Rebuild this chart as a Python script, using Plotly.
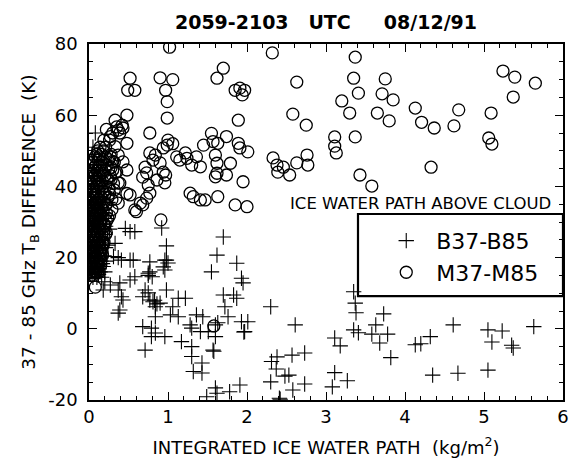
import plotly.graph_objects as go

# ---- B37-B85 brightness-temperature differences (crosses) ----
b_x = [
    # dense column near zero ice water path
    0.05, 0.10, 0.16, 0.03, 0.08, 0.14, 0.20, 0.06, 0.11, 0.18,
    0.02, 0.09, 0.15, 0.22, 0.05, 0.12, 0.19, 0.03, 0.08, 0.14,
    0.06, 0.11, 0.17, 0.24, 0.02, 0.09, 0.15, 0.05, 0.12, 0.20,
    0.03, 0.08, 0.14, 0.26, 0.06, 0.11, 0.18, 0.02, 0.09, 0.15,
    0.22, 0.05, 0.12, 0.19, 0.03, 0.08, 0.14, 0.06, 0.11, 0.17,
    0.24, 0.02, 0.09, 0.15, 0.05, 0.12, 0.20, 0.03, 0.08, 0.14,
    0.06, 0.11, 0.18, 0.04, 0.09, 0.15, 0.07, 0.12, 0.05, 0.10,
    0.07, 0.05, 0.08,
    0.01, 0.07, 0.12, 0.04, 0.13, 0.01, 0.07, 0.17, 0.04, 0.10,
    0.01, 0.07, 0.13, 0.04, 0.10, 0.21, 0.01, 0.07, 0.13, 0.04,
    0.10, 0.17, 0.01, 0.07, 0.13, 0.04, 0.10, 0.21, 0.01, 0.07,
    0.13, 0.04, 0.10, 0.17, 0.01, 0.07, 0.13, 0.04, 0.10, 0.02,
    0.08, 0.03, 0.06, 0.10, 0.04,
    # scattered points
    0.46, 0.52, 0.58, 0.92, 0.33, 0.98, 0.96, 1.00, 0.94, 0.77,
    0.75, 0.80, 0.56, 0.37, 0.58, 1.70, 1.62, 1.87, 1.55, 1.93,
    1.95, 0.31, 0.41, 0.52, 0.98, 0.96, 0.77, 0.75, 0.20, 0.27,
    0.39, 0.52, 0.18, 0.37, 0.41, 0.43, 0.39, 0.37, 0.71, 0.75,
    0.68, 0.81, 0.90, 0.84, 0.77, 0.86, 0.83, 0.98, 1.13, 1.22,
    1.06, 1.03, 1.13, 0.84, 0.68, 0.79, 0.84, 0.79, 0.96, 0.71,
    1.28, 1.36, 1.44, 1.41, 1.30, 1.17, 1.30, 1.30, 1.43, 1.32,
    1.43, 1.60, 1.63, 1.60, 1.57, 1.58, 1.51, 1.70, 1.72, 1.76,
    1.83, 1.87, 1.93, 2.01, 1.97, 1.96, 1.60, 1.49, 1.62, 1.78,
    1.91, 2.30, 2.61, 3.11, 3.18, 3.35, 3.41, 3.58, 3.35, 3.37,
    3.38, 3.63, 3.73, 3.78, 3.68, 3.82, 4.13, 4.20, 4.32, 4.61,
    4.35, 4.67, 5.05, 5.23, 5.10, 5.05, 5.37, 5.35, 5.63, 3.11,
    3.08, 3.27, 2.31, 2.37, 2.30, 2.38, 2.57, 2.73, 2.48, 2.53,
    2.58, 2.73, 2.41, 2.42,
]
b_y = [
    14.5, 14.5, 14.5, 16.0, 16.0, 16.0, 16.0, 17.5, 17.5, 17.5,
    19.0, 19.0, 19.0, 19.0, 20.5, 20.5, 20.5, 22.0, 22.0, 22.0,
    23.5, 23.5, 23.5, 23.5, 25.0, 25.0, 25.0, 26.5, 26.5, 26.5,
    28.0, 28.0, 28.0, 28.0, 29.5, 29.5, 29.5, 31.0, 31.0, 31.0,
    31.0, 32.5, 32.5, 32.5, 34.0, 34.0, 34.0, 35.5, 35.5, 35.5,
    35.5, 37.0, 37.0, 37.0, 38.5, 38.5, 38.5, 40.0, 40.0, 40.0,
    41.5, 41.5, 41.5, 43.0, 43.0, 43.0, 44.5, 44.5, 46.0, 46.0,
    47.5, 51.0, 55.0,
    15.3, 15.3, 15.3, 16.8, 16.8, 18.3, 18.3, 18.3, 19.8, 19.8,
    21.3, 21.3, 21.3, 22.8, 22.8, 22.8, 24.3, 24.3, 24.3, 25.8,
    25.8, 25.8, 27.3, 27.3, 27.3, 28.8, 28.8, 28.8, 30.3, 30.3,
    30.3, 31.8, 31.8, 31.8, 33.3, 33.3, 33.3, 34.8, 34.8, 36.3,
    36.3, 39.3, 42.3, 45.3, 49.0,
    28.2, 27.3, 27.3, 28.3, 24.0, 23.3, 19.3, 18.5, 17.4, 18.8,
    15.6, 14.6, 19.3, 20.0, 14.6, 25.8, 20.7, 18.4, 16.0, 14.2,
    12.9, 20.3, 19.3, 19.3, 19.3, 16.5, 16.0, 15.0, 13.2, 12.3,
    12.9, 13.7, 10.9, 10.9, 9.0, 8.1, 5.3, 4.4, 10.9, 10.1,
    9.0, 7.6, 7.2, 6.2, 8.1, 7.0, 8.0, 10.9, 8.6, 8.6,
    6.2, 3.9, 3.4, 3.4, 0.6, 0.2, -1.2, -2.2, -2.2, -6.0,
    1.1, 3.9, 3.4, -0.8, 0.2, -3.6, -5.0, -7.8, -9.6, -12.0,
    -12.4, 1.1, 1.7, -2.2, -6.0, -6.3, -0.8, 9.5, 6.2, 3.4,
    9.5, 8.6, 2.0, 2.0, -0.8, -0.9, -16.6, -19.1, -18.1, -17.7,
    -15.8, 6.2, 1.1, -2.6, -4.8, -0.3, -1.1, -1.5, 10.4, 7.2,
    4.5, 1.1, 4.2, -1.5, -4.0, -8.1, -4.5, -4.2, -2.2, 1.1,
    -13.0, -12.5, -0.3, -0.6, -3.7, -11.6, -5.4, -4.6, 0.6, -12.3,
    -16.3, -14.6, -9.2, -11.3, -14.9, -7.9, -7.4, -6.8, -13.3, -13.0,
    -17.2, -15.5, -19.5, -19.8,
]

# ---- M37-M85 brightness-temperature differences (circles) ----
m_x = [
    # dense column near zero ice water path
    0.03, 0.06, 0.04, 0.09, 0.13, 0.02, 0.07, 0.11, 0.05, 0.10,
    0.15, 0.03, 0.08, 0.12, 0.17, 0.06, 0.10, 0.14, 0.02, 0.07,
    0.12, 0.18, 0.04, 0.09, 0.13, 0.06, 0.11, 0.16, 0.21, 0.03,
    0.08, 0.13, 0.05, 0.10, 0.15, 0.19, 0.07, 0.12, 0.17, 0.04,
    0.09, 0.14, 0.22, 0.06, 0.11, 0.16, 0.03, 0.08, 0.13, 0.19,
    0.05, 0.10, 0.15, 0.24, 0.07, 0.12, 0.18, 0.04, 0.09, 0.14,
    0.21, 0.06, 0.11, 0.17, 0.08, 0.13, 0.20, 0.27, 0.05, 0.10,
    0.16, 0.09, 0.14, 0.22, 0.12, 0.18, 0.25, 0.10, 0.16, 0.28,
    0.14, 0.21, 0.19, 0.26, 0.22,
    0.25, 0.30, 0.35, 0.37, 0.32, 0.28, 0.34, 0.26, 0.22, 0.29,
    0.24, 0.20, 0.22, 0.18, 0.17, 0.15,
    0.01, 0.08, 0.11, 0.05, 0.09, 0.03, 0.12, 0.07, 0.13, 0.01,
    0.05, 0.15, 0.04, 0.09, 0.16, 0.06, 0.11, 0.19, 0.02, 0.14,
    0.04, 0.09, 0.18, 0.01, 0.12, 0.20, 0.03, 0.08, 0.22, 0.05,
    0.14, 0.26, 0.02, 0.11, 0.18, 0.04, 0.09, 0.21, 0.01, 0.13,
    0.29, 0.03, 0.08, 0.20, 0.06, 0.16, 0.25, 0.02, 0.13, 0.31,
    0.04, 0.10, 0.23, 0.02, 0.18, 0.33, 0.07, 0.13, 0.28, 0.05,
    0.17, 0.32, 0.08, 0.13, 0.21, 0.11, 0.18,
    # scattered points
    1.02, 0.52, 0.49, 0.58, 0.90, 1.06, 0.97, 0.99, 0.99, 1.62,
    1.70, 1.85, 1.91, 1.97, 1.94, 1.89, 0.48, 0.33, 0.35, 0.42,
    0.43, 0.30, 0.37, 0.27, 0.39, 0.48, 0.33, 0.27, 0.37, 0.43,
    0.30, 0.48, 0.39, 0.48, 0.37, 0.60, 0.65, 0.77, 1.00, 0.99,
    0.94, 1.06, 0.77, 0.84, 0.81, 0.71, 0.73, 0.68, 0.75, 0.77,
    0.73, 0.68, 0.90, 0.94, 0.97, 0.86, 0.96, 0.91, 0.58, 0.52,
    1.11, 1.15, 1.22, 1.24, 1.30, 1.41, 1.36, 1.45, 1.55, 1.57,
    1.63, 1.60, 1.62, 1.74, 1.79, 1.89, 1.91, 2.01, 1.95, 1.62,
    1.60, 1.74, 1.28, 1.32, 1.41, 1.47, 1.63, 1.85, 2.00, 0.08,
    1.58,
    2.32, 2.63, 2.58, 2.75, 3.11, 3.11, 3.13, 2.33, 2.38, 2.46,
    2.54, 2.39, 2.63, 2.76, 2.77, 3.37, 3.35, 3.41, 3.20, 3.30,
    3.37, 3.43, 3.58, 3.75, 3.71, 3.85, 3.65, 3.80, 4.13, 4.21,
    4.37, 4.33, 4.68, 4.62, 5.09, 5.06, 5.10, 5.24, 5.39, 5.37,
    5.65,
]
m_y = [
    15.0, 15.0, 16.0, 16.0, 16.0, 17.5, 17.5, 17.5, 19.0, 19.0,
    19.0, 20.5, 20.5, 20.5, 20.5, 22.0, 22.0, 22.0, 23.5, 23.5,
    23.5, 23.5, 25.0, 25.0, 25.0, 26.5, 26.5, 26.5, 26.5, 28.0,
    28.0, 28.0, 29.5, 29.5, 29.5, 29.5, 31.0, 31.0, 31.0, 32.5,
    32.5, 32.5, 32.5, 34.0, 34.0, 34.0, 35.5, 35.5, 35.5, 35.5,
    37.0, 37.0, 37.0, 37.0, 38.5, 38.5, 38.5, 40.0, 40.0, 40.0,
    40.0, 41.5, 41.5, 41.5, 43.0, 43.0, 43.0, 43.0, 44.5, 44.5,
    44.5, 46.0, 46.0, 46.0, 47.5, 47.5, 47.5, 49.0, 49.0, 49.0,
    51.0, 51.0, 53.0, 53.0, 56.0,
    45.0, 47.0, 44.0, 41.0, 39.0, 42.0, 36.5, 38.0, 35.0, 33.5,
    31.0, 29.0, 27.0, 24.0, 21.0, 18.0,
    15.8, 15.8, 15.8, 17.0, 17.0, 18.3, 18.3, 19.8, 19.8, 21.3,
    21.3, 21.3, 22.8, 22.8, 22.8, 24.3, 24.3, 24.3, 25.8, 25.8,
    27.3, 27.3, 27.3, 28.8, 28.8, 28.8, 30.3, 30.3, 30.3, 31.8,
    31.8, 31.8, 33.3, 33.3, 33.3, 34.8, 34.8, 34.8, 36.3, 36.3,
    36.3, 37.8, 37.8, 37.8, 39.3, 39.3, 39.3, 40.8, 40.8, 40.8,
    42.3, 42.3, 42.3, 43.8, 43.8, 43.8, 45.3, 45.3, 45.3, 46.8,
    46.8, 46.8, 48.3, 48.3, 48.3, 50.0, 50.0,
    79.1, 70.4, 67.0, 67.0, 70.5, 70.0, 67.0, 63.8, 59.2, 70.4,
    73.2, 67.0, 67.6, 67.0, 65.7, 58.6, 60.0, 58.6, 56.7, 57.2,
    56.4, 55.0, 55.8, 54.0, 55.0, 52.1, 51.2, 48.4, 48.8, 46.9,
    44.6, 44.6, 40.9, 38.0, 35.3, 32.9, 35.3, 55.0, 53.0, 51.6,
    50.8, 52.0, 49.4, 48.8, 47.4, 45.4, 43.8, 42.6, 40.4, 38.1,
    36.7, 34.8, 46.6, 44.0, 43.2, 41.8, 41.0, 30.6, 33.4, 37.6,
    48.3, 47.4, 49.4, 47.9, 46.0, 45.5, 48.3, 51.6, 54.9, 52.6,
    52.1, 48.8, 46.5, 54.0, 46.5, 52.1, 50.8, 49.7, 41.3, 43.7,
    42.7, 43.2, 38.1, 37.1, 36.2, 36.2, 37.1, 34.8, 34.3, 11.7,
    0.8,
    77.5, 69.3, 60.3, 57.2, 53.9, 51.3, 49.4, 48.0, 46.0, 45.4,
    43.2, 44.0, 46.6, 48.8, 46.0, 76.3, 70.4, 66.2, 64.0, 60.6,
    53.9, 43.2, 40.1, 70.2, 66.0, 64.3, 60.6, 58.4, 62.0, 58.0,
    56.4, 45.4, 61.5, 57.0, 60.6, 53.6, 51.9, 72.4, 70.7, 65.1,
    69.0,
]

x_ticks = [0, 1, 2, 3, 4, 5, 6]
y_ticks = [-20, 0, 20, 40, 60, 80]
y_ticktext = ["-20", "0", "20", "40", "60", "80"]

FONT = "DejaVu Sans"
NB = "\u00a0"

fig = go.Figure()
fig.add_trace(go.Scatter(
    x=b_x, y=b_y, mode="markers", name="B37-B85",
    marker=dict(symbol="cross-thin-open", size=11, color="black",
                line=dict(color="black", width=1.1)),
))
fig.add_trace(go.Scatter(
    x=m_x, y=m_y, mode="markers", name="M37-M85",
    marker=dict(symbol="circle-open", size=12, color="black",
                line=dict(color="black", width=1.3)),
))

axis_common = dict(
    showline=True, linecolor="black", linewidth=1.6, mirror="allticks",
    ticks="inside", ticklen=8, tickwidth=1.3, tickcolor="black",
    showgrid=False, zeroline=False,
    tickfont=dict(family=FONT, size=18, color="black"),
)

fig.update_layout(
    width=580, height=466,
    margin=dict(l=89, r=17, t=44, b=66),
    paper_bgcolor="white", plot_bgcolor="white",
    title=dict(
        text="2059-2103" + NB * 3 + "UTC" + NB * 5 + "08/12/91",
        x=0.5, xref="paper", xanchor="center",
        y=1 - 22 / 466, yref="container", yanchor="middle",
        font=dict(family=FONT, size=19, color="black", weight="bold"),
    ),
    xaxis=dict(
        range=[0, 6], tickvals=x_ticks,
        minor=dict(dtick=0.2, ticks="inside", ticklen=4, tickcolor="black", tickwidth=1),
        title=dict(text="INTEGRATED ICE WATER PATH" + NB * 2 + "(kg/m<sup>2</sup>)",
                   font=dict(family=FONT, size=18, color="black"), standoff=15),
        **axis_common,
    ),
    yaxis=dict(
        range=[-20, 80], tickvals=y_ticks, ticktext=y_ticktext,
        minor=dict(dtick=5, ticks="inside", ticklen=4, tickcolor="black", tickwidth=1),
        title=dict(text="37 - 85 GHz T<sub>B</sub> DIFFERENCE" + NB * 2 + "(K)",
                   font=dict(family=FONT, size=18.5, color="black"), standoff=8),
        ticklabelstandoff=6,
        **axis_common,
    ),
    showlegend=True,
    legend=dict(
        x=0.606, y=0.506, xanchor="left", yanchor="top",
        bgcolor="rgba(0,0,0,0)", borderwidth=0,
        font=dict(family=FONT, size=22, color="black"),
        itemwidth=50,
    ),
    annotations=[dict(
        text="ICE WATER PATH ABOVE CLOUD", showarrow=False,
        xref="paper", yref="paper", x=0.979, y=0.553,
        xanchor="right", yanchor="middle",
        font=dict(family=FONT, size=16.5, color="black"),
    )],
    shapes=[dict(
        type="rect", xref="paper", yref="paper",
        x0=0.5675, x1=1.0, y0=0.292, y1=0.5225,
        line=dict(color="black", width=2.2), fillcolor="rgba(0,0,0,0)",
    )],
)

fig.write_html("out.html")
